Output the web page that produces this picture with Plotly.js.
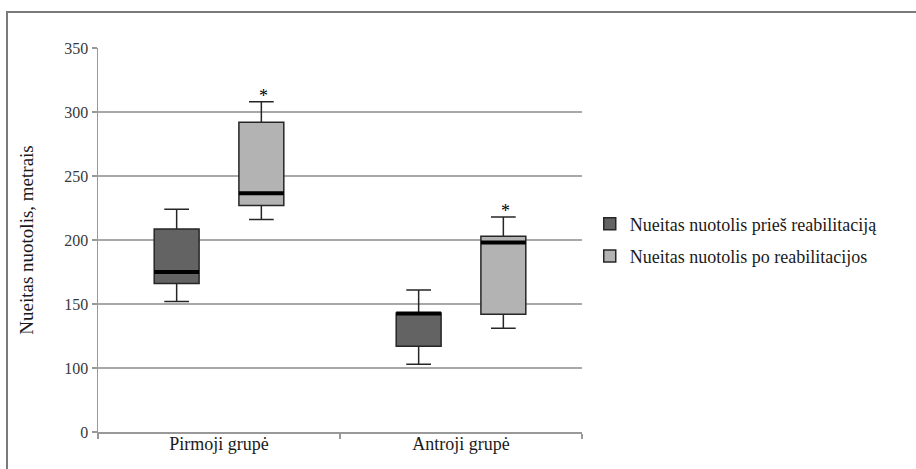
<!DOCTYPE html>
<html>
<head>
<meta charset="utf-8">
<script src="https://cdn.plot.ly/plotly-3.0.1.min.js"></script>
<style>
  html, body { margin: 0; padding: 0; background: #ffffff; overflow: hidden; }
  #wrap { position: relative; width: 916px; height: 469px; overflow: hidden; }
  #chart { position: absolute; left: 0; top: 0; width: 916px; height: 469px; }
  #frame { position: absolute; left: 6px; top: 11px; width: 1000px; height: 600px;
           border: 2px solid #7a7a7a; pointer-events: none; }
</style>
</head>
<body>
<div id="wrap">
  <div id="chart"></div>
  <div id="frame"></div>
</div>
<script>
// ---- data ----
const groups = ["Pirmoji grupė", "Antroji grupė"];

const seriesNames = ["Nueitas nuotolis prieš reabilitaciją", "Nueitas nuotolis po reabilitacijos"];

// before rehabilitation
const beforeLow    = [152, 103];
const beforeQ1     = [166, 117];
const beforeMedian = [175, 142.5];
const beforeQ3     = [208.5, 143];
const beforeHigh   = [224, 161];

// after rehabilitation
const afterLow    = [216, 131];
const afterQ1     = [227, 142];
const afterMedian = [236.5, 198];
const afterQ3     = [292, 203];
const afterHigh   = [308, 218];

// significance marks (shown above the "after" boxes)
const afterMarks = ["*", "*"];

// The original y axis is broken: "0" sits one step (50 units) below "100".
const yTickVals   = [50, 100, 150, 200, 250, 300, 350];
const yTickLabels = ["0", "100", "150", "200", "250", "300", "350"];

const yTitle = "Nueitas nuotolis, metrais";

// ---- styling ----
const darkFill = "#636363";
const lightFill = "#b3b3b3";
const edge = "#262626";
const serif = "Liberation Serif";

function boxTrace(name, og, low, q1, med, q3, high, fill, legendgroup) {
  return {
    type: "box", name: name, x: groups, offsetgroup: og, legendgroup: legendgroup,
    lowerfence: low, q1: q1, median: med, q3: q3, upperfence: high,
    boxpoints: false, fillcolor: fill, whiskerwidth: 0.55,
    line: { color: edge, width: 1.5 }, hoverinfo: "skip"
  };
}
function medianTrace(og, med) {
  return {
    type: "box", x: groups, offsetgroup: og, showlegend: false,
    lowerfence: med, q1: med, median: med, q3: med, upperfence: med,
    boxpoints: false, fillcolor: "rgba(0,0,0,0)", whiskerwidth: 0,
    line: { color: "#000000", width: 4 }, hoverinfo: "skip"
  };
}

const traces = [
  boxTrace(seriesNames[0], "pre", beforeLow, beforeQ1, beforeMedian, beforeQ3, beforeHigh, darkFill, "a"),
  boxTrace(seriesNames[1], "post", afterLow, afterQ1, afterMedian, afterQ3, afterHigh, lightFill, "b"),
  medianTrace("pre", beforeMedian),
  medianTrace("post", afterMedian)
];

const annotations = groups.map((g, i) => ({
  x: g, y: afterHigh[i], xref: "x", yref: "y",
  text: afterMarks[i], showarrow: false,
  xshift: 44, yshift: -6, yanchor: "bottom",
  font: { family: serif, size: 18, color: "#000000" }
}));

const layout = {
  width: 916, height: 469,
  margin: { l: 98, r: 334, t: 48, b: 37 },
  paper_bgcolor: "#ffffff", plot_bgcolor: "#ffffff",
  boxmode: "group", boxgap: 0.3, boxgroupgap: 0.47,
  showlegend: true,
  legend: {
    x: 1.016, y: 0.5, xanchor: "left", yanchor: "middle",
    font: { family: serif, size: 18, color: "#1a1a1a" },
    traceorder: "grouped", tracegroupgap: 6,
    itemwidth: 30, bgcolor: "rgba(0,0,0,0)"
  },
  xaxis: {
    type: "category", tickson: "boundaries",
    ticks: "outside", ticklen: 5, tickcolor: "#999999", tickwidth: 1.5,
    showline: true, linecolor: "#999999", linewidth: 1.5,
    showgrid: false, zeroline: false, ticklabelstandoff: -5,
    tickfont: { family: serif, size: 18, color: "#1a1a1a" }
  },
  yaxis: {
    range: [50, 350], tickmode: "array", tickvals: yTickVals, ticktext: yTickLabels,
    ticks: "outside", ticklen: 5, tickcolor: "#999999", tickwidth: 1.5,
    showline: true, linecolor: "#999999", linewidth: 1.5,
    showgrid: true, gridcolor: "#a8a8a8", gridwidth: 1.5, zeroline: false,
    tickfont: { family: serif, size: 16, color: "#3a3a3a" },
    title: { text: yTitle, standoff: 25, font: { family: serif, size: 19, color: "#1a1a1a" } },
    automargin: false
  },
  annotations: annotations
};

Plotly.newPlot("chart", traces, layout, { staticPlot: true, displayModeBar: false });
</script>
</body>
</html>
